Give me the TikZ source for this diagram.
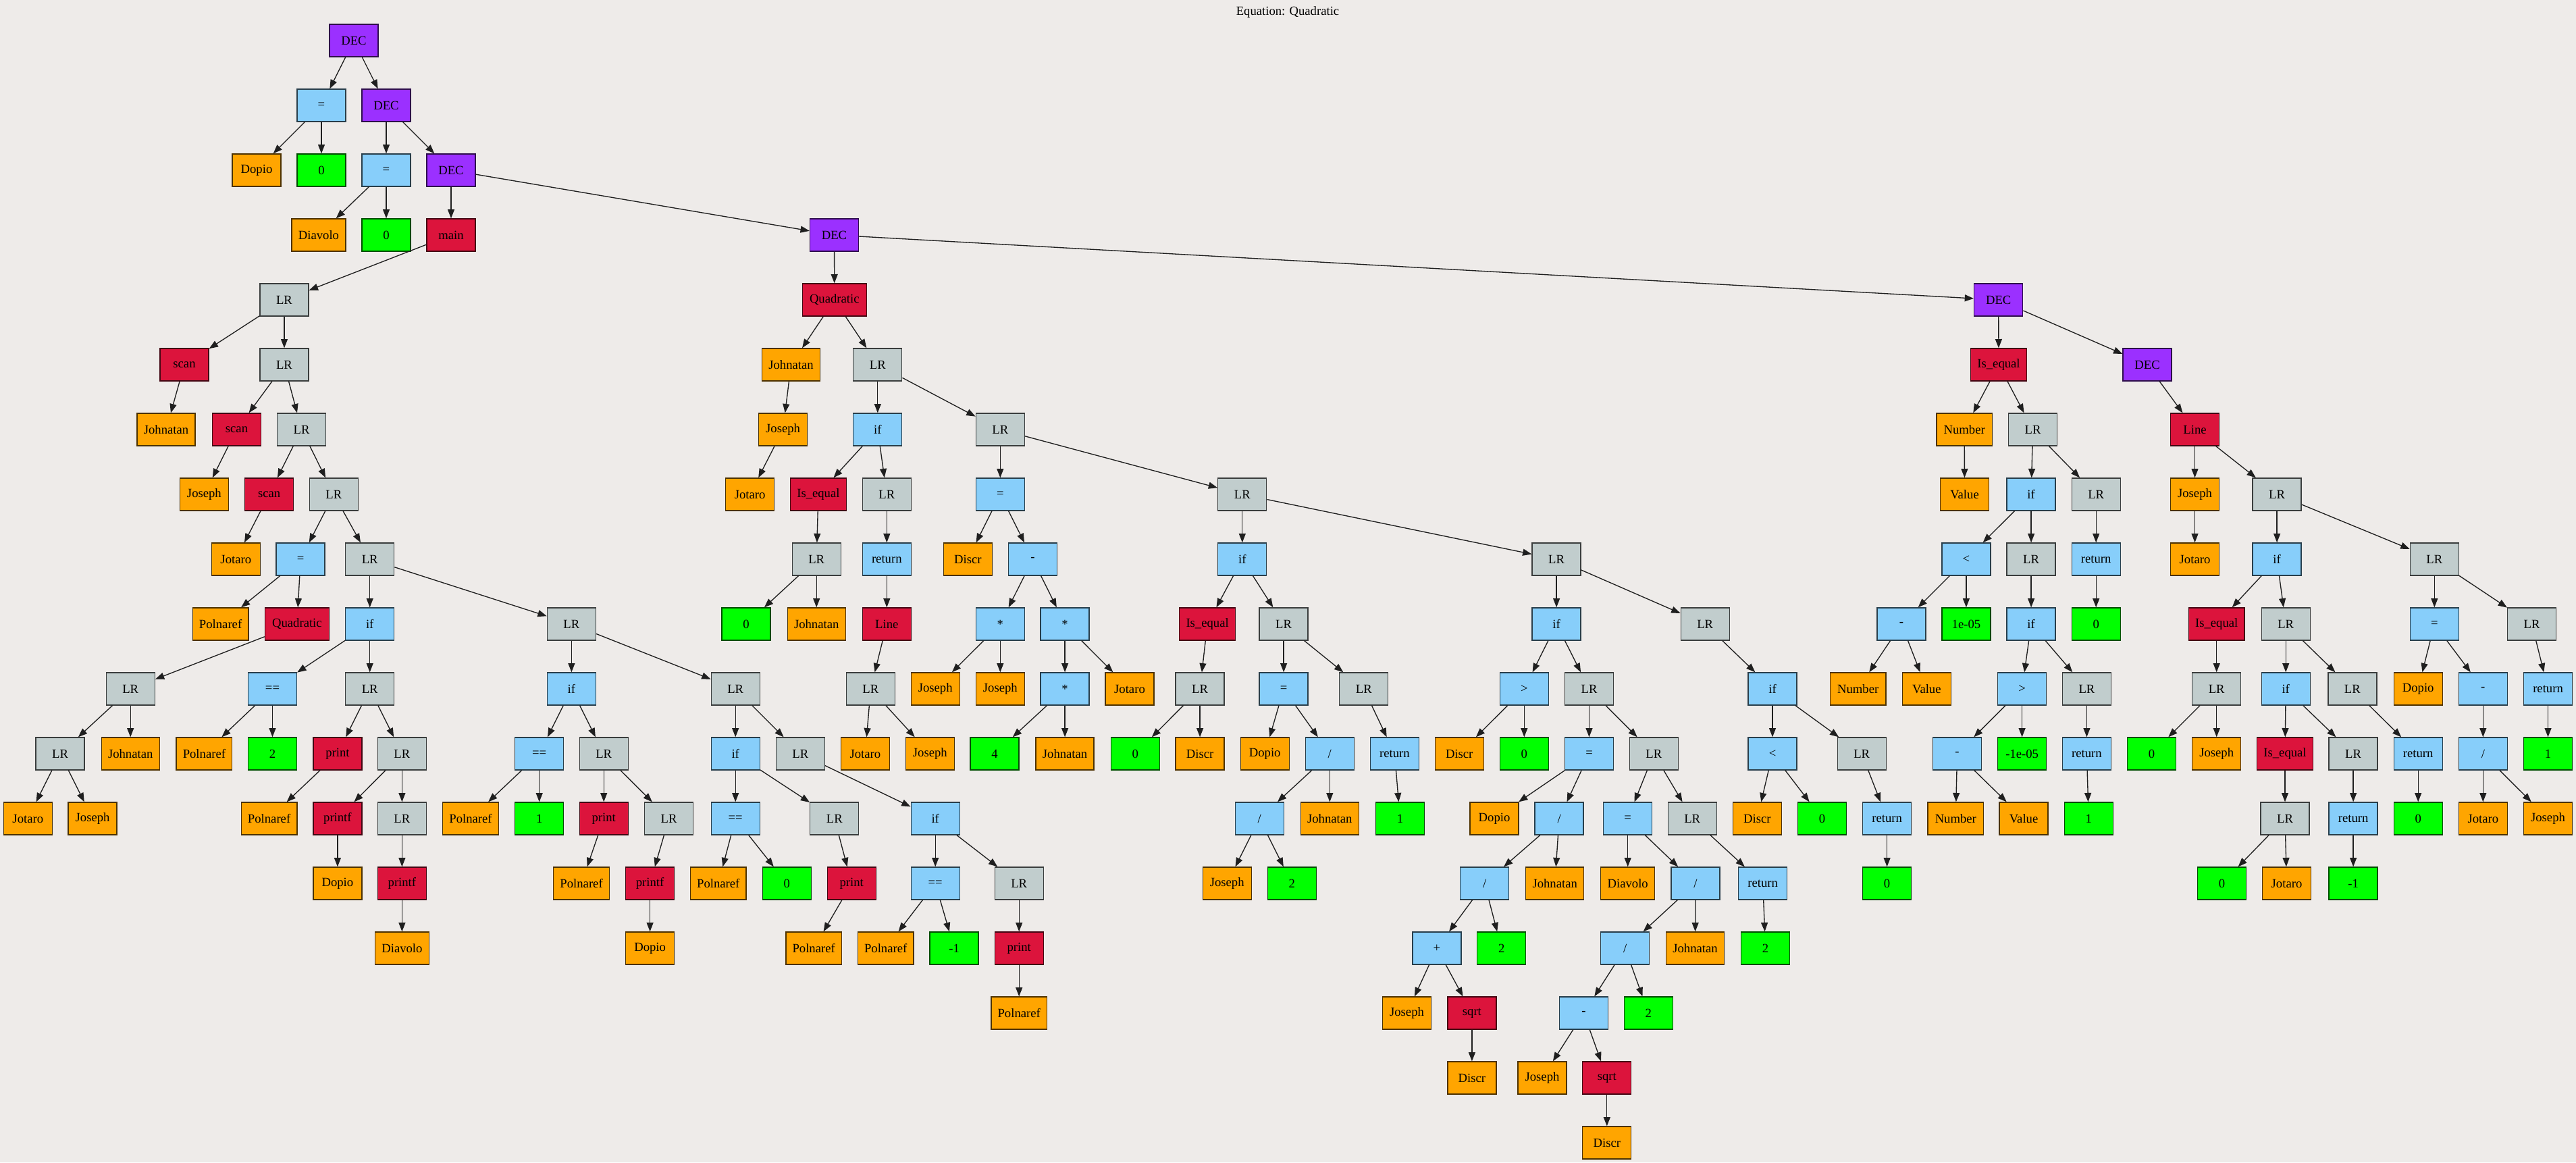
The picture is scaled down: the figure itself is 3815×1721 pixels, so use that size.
\documentclass[tikz,border=0pt]{standalone}
\usepackage{fontspec}
\setmainfont{Liberation Serif}
\usetikzlibrary{arrows.meta}
\definecolor{bgc}{RGB}{238,235,233}
\definecolor{cpur}{RGB}{155,48,255}
\definecolor{cblu}{RGB}{135,206,250}
\definecolor{cora}{RGB}{255,165,0}
\definecolor{cgrn}{RGB}{0,255,0}
\definecolor{cred}{RGB}{220,20,60}
\definecolor{cgry}{RGB}{193,205,205}
\tikzset{
  nbase/.style={rectangle, line width=1pt, minimum width=54pt, minimum height=36pt, inner sep=0pt, font=\fontsize{14pt}{16pt}\selectfont, text=black},
  ndec/.style={nbase, fill=cpur, draw=cpur!30!black},
  nop/.style={nbase, fill=cblu, draw=cblu!30!black},
  nvar/.style={nbase, fill=cora, draw=cora!30!black},
  nnum/.style={nbase, fill=cgrn, draw=cgrn!30!black},
  nfn/.style={nbase, fill=cred, draw=cred!30!black},
  nlr/.style={nbase, fill=cgry, draw=cgry!30!black},
  w80/.style={minimum width=60pt},
  w83/.style={minimum width=62pt},
  w86/.style={minimum width=64.5pt},
  w95/.style={minimum width=71.25pt},
  edge/.style={line width=1pt, draw=black!88, -{Triangle[length=10pt,width=7.5pt]}}
}
\begin{document}
\begin{tikzpicture}[x=0.75pt,y=-0.75pt]
\fill[bgc] (0,0) rectangle (3815,1721);
\useasboundingbox (0,0) rectangle (3815,1721);
\node[font=\fontsize{14pt}{16pt}\selectfont] (title) at (1907,18) {Equation: Quadratic};
% top chain
\node[ndec] (a0) at (524,60) {DEC};
\node[nop] (a1) at (476,156) {=};
\node[ndec] (a2) at (572,156) {DEC};
\node[nvar] (a3) at (380,252) {Dopio};
\node[nnum] (a4) at (476,252) {0};
\node[nop] (a5) at (572,252) {=};
\node[ndec] (a6) at (668,252) {DEC};
\node[nvar,w80] (a7) at (472,348) {Diavolo};
\node[nnum] (a8) at (572,348) {0};
\node[nfn] (a9) at (668,348) {main};
\node[ndec] (a10) at (1235.5,348) {DEC};
% main branch
\node[nlr] (b1) at (421,444) {LR};
\node[nfn] (b2) at (273,540) {scan};
\node[nlr] (b3) at (421,540) {LR};
\node[nvar,w86] (b4) at (246,636) {Johnatan};
\node[nfn] (b5) at (350.5,636) {scan};
\node[nlr] (b6) at (446.6,636) {LR};
\node[nvar] (b7) at (302.4,732) {Joseph};
\node[nfn] (b8) at (398.6,732) {scan};
\node[nlr] (b9) at (494.4,732) {LR};
\node[nvar] (b10) at (349.3,828) {Jotaro};
\node[nop] (b11) at (445.1,828) {=};
\node[nlr] (b12) at (547.7,828) {LR};
\node[nvar,w83] (b13) at (326.6,924) {Polnaref};
\node[nfn,w95] (b14) at (439.9,924) {Quadratic};
\node[nop] (b15) at (547.7,924) {if};
\node[nlr] (b16) at (846.4,924) {LR};
\node[nlr] (b17) at (193.2,1020) {LR};
\node[nlr] (b18) at (89.1,1116) {LR};
\node[nvar,w86] (b19) at (193.2,1116) {Johnatan};
\node[nvar] (b20) at (41.3,1212) {Jotaro};
\node[nvar] (b21) at (137.1,1212) {Joseph};
\node[nop] (b22) at (403.5,1020) {==};
\node[nlr] (b23) at (547.7,1020) {LR};
\node[nvar,w83] (b24) at (302.4,1116) {Polnaref};
\node[nnum] (b25) at (403.5,1116) {2};
\node[nfn] (b26) at (499.9,1116) {print};
\node[nlr] (b27) at (595.4,1116) {LR};
\node[nvar,w83] (b28) at (398.6,1212) {Polnaref};
\node[nfn] (b29) at (499.9,1212) {printf};
\node[nlr] (b30) at (595.4,1212) {LR};
\node[nvar] (b31) at (499.9,1308) {Dopio};
\node[nfn] (b32) at (595.4,1308) {printf};
\node[nvar,w80] (b33) at (595.4,1404) {Diavolo};
\node[nop] (b34) at (846.4,1020) {if};
\node[nlr] (b35) at (1089.2,1020) {LR};
\node[nop] (b36) at (798.7,1116) {==};
\node[nlr] (b37) at (894.2,1116) {LR};
\node[nvar,w83] (b38) at (697,1212) {Polnaref};
\node[nnum] (b39) at (798.7,1212) {1};
\node[nfn] (b40) at (894.2,1212) {print};
\node[nlr] (b41) at (990.6,1212) {LR};
\node[nvar,w83] (b42) at (861.1,1308) {Polnaref};
\node[nfn] (b43) at (962.6,1308) {printf};
\node[nvar] (b44) at (962.6,1404) {Dopio};
\node[nop] (b45) at (1089.2,1116) {if};
\node[nlr] (b46) at (1185.3,1116) {LR};
\node[nop] (b47) at (1089.2,1212) {==};
\node[nlr] (b48) at (1235.8,1212) {LR};
\node[nvar,w83] (b49) at (1063.8,1308) {Polnaref};
\node[nnum] (b50) at (1165.4,1308) {0};
\node[nfn] (b51) at (1261.2,1308) {print};
\node[nvar,w83] (b52) at (1205.2,1404) {Polnaref};
\node[nop] (b53) at (1385.2,1212) {if};
\node[nop] (b54) at (1385.2,1308) {==};
\node[nlr] (b55) at (1509.2,1308) {LR};
\node[nvar,w83] (b56) at (1311.7,1404) {Polnaref};
\node[nnum] (b57) at (1413.1,1404) {-1};
\node[nfn] (b58) at (1509.2,1404) {print};
\node[nvar,w83] (b59) at (1509.2,1500) {Polnaref};
% Quadratic branch
\node[nfn,w95] (c1) at (1235.8,444) {Quadratic};
\node[nvar,w86] (c2) at (1171.5,540) {Johnatan};
\node[nlr] (c3) at (1299.8,540) {LR};
\node[nvar] (c4) at (1159.6,636) {Joseph};
\node[nvar] (c5) at (1110.6,732) {Jotaro};
\node[nop] (c6) at (1299.8,636) {if};
\node[nlr] (c7) at (1481.3,636) {LR};
\node[nfn,w83] (c8) at (1211.9,732) {Is\_equal};
\node[nlr] (c9) at (1313.3,732) {LR};
\node[nlr] (c10) at (1209.2,828) {LR};
\node[nnum] (c11) at (1105.1,924) {0};
\node[nvar,w86] (c12) at (1209.2,924) {Johnatan};
\node[nop] (c13) at (1313.3,828) {return};
\node[nfn] (c14) at (1313.3,924) {Line};
\node[nlr] (c15) at (1289.4,1020) {LR};
\node[nvar] (c16) at (1281.4,1116) {Jotaro};
\node[nvar] (c17) at (1377.3,1116) {Joseph};
\node[nop] (c18) at (1481.3,732) {=};
\node[nlr] (c19) at (1839.8,732) {LR};
\node[nvar] (c20) at (1433.3,828) {Discr};
\node[nop] (c21) at (1529.4,828) {-};
\node[nop] (c22) at (1481.3,924) {*};
\node[nop] (c23) at (1577.1,924) {*};
\node[nvar] (c24) at (1385.2,1020) {Joseph};
\node[nvar] (c25) at (1481.3,1020) {Joseph};
\node[nop] (c26) at (1577.1,1020) {*};
\node[nvar] (c27) at (1673,1020) {Jotaro};
\node[nnum] (c28) at (1473.1,1116) {4};
\node[nvar,w86] (c29) at (1577.1,1116) {Johnatan};
\node[nop] (c30) at (1839.8,828) {if};
\node[nlr] (c31) at (2305.1,828) {LR};
\node[nfn,w83] (c32) at (1788.1,924) {Is\_equal};
\node[nlr] (c33) at (1901.1,924) {LR};
\node[nlr] (c34) at (1777.1,1020) {LR};
\node[nnum] (c35) at (1681.2,1116) {0};
\node[nvar] (c36) at (1777.1,1116) {Discr};
\node[nop] (c37) at (1901.1,1020) {=};
\node[nlr] (c38) at (2019.8,1020) {LR};
\node[nvar] (c39) at (1873.2,1116) {Dopio};
\node[nop] (c40) at (1969.3,1116) {/};
\node[nop] (c41) at (1865.2,1212) {/};
\node[nvar,w86] (c42) at (1969.3,1212) {Johnatan};
\node[nvar] (c43) at (1817.2,1308) {Joseph};
\node[nnum] (c44) at (1913.2,1308) {2};
\node[nop] (c45) at (2065.4,1116) {return};
\node[nnum] (c46) at (2073.4,1212) {1};
\node[nop] (c47) at (2305.1,924) {if};
\node[nlr] (c48) at (2525.2,924) {LR};
\node[nop] (c49) at (2257.3,1020) {>};
\node[nlr] (c50) at (2353.5,1020) {LR};
\node[nvar] (c51) at (2161.2,1116) {Discr};
\node[nnum] (c52) at (2257.3,1116) {0};
\node[nop] (c53) at (2353.5,1116) {=};
\node[nlr] (c54) at (2449.3,1116) {LR};
\node[nvar] (c55) at (2213,1212) {Dopio};
\node[nop] (c56) at (2309.1,1212) {/};
\node[nop] (c57) at (2198.6,1308) {/};
\node[nvar,w86] (c58) at (2302.7,1308) {Johnatan};
\node[nop] (c59) at (2127.9,1404) {+};
\node[nnum] (c60) at (2223.7,1404) {2};
\node[nvar] (c61) at (2083.5,1500) {Joseph};
\node[nfn] (c62) at (2179.9,1500) {sqrt};
\node[nvar] (c63) at (2179.9,1596) {Discr};
\node[nop] (c64) at (2410.7,1212) {=};
\node[nlr] (c65) at (2506.2,1212) {LR};
\node[nvar,w80] (c66) at (2410.7,1308) {Diavolo};
\node[nop] (c67) at (2510.9,1308) {/};
\node[nop] (c68) at (2406.8,1404) {/};
\node[nvar,w86] (c69) at (2510.5,1404) {Johnatan};
\node[nop] (c70) at (2345.5,1500) {-};
\node[nnum] (c71) at (2441.3,1500) {2};
\node[nvar] (c72) at (2284,1596) {Joseph};
\node[nfn] (c73) at (2379.8,1596) {sqrt};
\node[nvar] (c74) at (2379.8,1692) {Discr};
\node[nop] (c75) at (2610.7,1308) {return};
\node[nnum] (c76) at (2614.6,1404) {2};
\node[nop] (c77) at (2625,1020) {if};
\node[nop] (c78) at (2625,1116) {<};
\node[nlr] (c79) at (2757.2,1116) {LR};
\node[nvar] (c80) at (2602.4,1212) {Discr};
\node[nnum] (c81) at (2698.5,1212) {0};
\node[nop] (c82) at (2794.6,1212) {return};
\node[nnum] (c83) at (2794.6,1308) {0};
% right branch
\node[ndec] (d1) at (2959.7,444) {DEC};
\node[nfn,w83] (d2) at (2960,540) {Is\_equal};
\node[ndec] (d3) at (3180.1,540) {DEC};
\node[nvar,w83] (d4) at (2909.2,636) {Number};
\node[nlr] (d5) at (3010.5,636) {LR};
\node[nvar] (d6) at (2909.5,732) {Value};
\node[nop] (d7) at (3008.1,732) {if};
\node[nlr] (d8) at (3104.2,732) {LR};
\node[nop] (d9) at (2911.9,828) {<};
\node[nlr] (d10) at (3008.1,828) {LR};
\node[nop] (d11) at (2816,924) {-};
\node[nnum] (d12) at (2911.9,924) {1e-05};
\node[nvar,w83] (d13) at (2751.7,1020) {Number};
\node[nvar] (d14) at (2853.3,1020) {Value};
\node[nop] (d15) at (3008.1,924) {if};
\node[nop] (d16) at (2994.6,1020) {>};
\node[nlr] (d17) at (3090.4,1020) {LR};
\node[nop] (d18) at (2898.5,1116) {-};
\node[nnum] (d19) at (2994.6,1116) {-1e-05};
\node[nvar,w83] (d20) at (2896.3,1212) {Number};
\node[nvar] (d21) at (2997,1212) {Value};
\node[nop] (d22) at (3090.4,1116) {return};
\node[nnum] (d23) at (3093.2,1212) {1};
\node[nop] (d24) at (3104.2,828) {return};
\node[nnum] (d25) at (3104.2,924) {0};
\node[nfn] (d26) at (3250.5,636) {Line};
\node[nvar] (d27) at (3250.5,732) {Joseph};
\node[nlr] (d28) at (3372.1,732) {LR};
\node[nvar] (d29) at (3250.5,828) {Jotaro};
\node[nop] (d30) at (3372.1,828) {if};
\node[nlr] (d31) at (3605.3,828) {LR};
\node[nfn,w83] (d32) at (3282.7,924) {Is\_equal};
\node[nlr] (d33) at (3385.2,924) {LR};
\node[nlr] (d34) at (3282.7,1020) {LR};
\node[nnum] (d35) at (3186.6,1116) {0};
\node[nvar] (d36) at (3282.7,1116) {Joseph};
\node[nop] (d37) at (3385.2,1020) {if};
\node[nlr] (d38) at (3483.8,1020) {LR};
\node[nfn,w83] (d39) at (3384,1116) {Is\_equal};
\node[nlr] (d40) at (3485.1,1116) {LR};
\node[nlr] (d41) at (3384,1212) {LR};
\node[nnum] (d42) at (3290.6,1308) {0};
\node[nvar] (d43) at (3386.5,1308) {Jotaro};
\node[nop] (d44) at (3485.1,1212) {return};
\node[nnum] (d45) at (3485.1,1308) {-1};
\node[nop] (d46) at (3581.2,1116) {return};
\node[nnum] (d47) at (3581.2,1212) {0};
\node[nop] (d48) at (3605.3,924) {=};
\node[nlr] (d49) at (3749.6,924) {LR};
\node[nvar] (d50) at (3581.2,1020) {Dopio};
\node[nop] (d51) at (3677.3,1020) {-};
\node[nop] (d52) at (3677.3,1116) {/};
\node[nvar] (d53) at (3677.3,1212) {Jotaro};
\node[nvar] (d54) at (3773.5,1212) {Joseph};
\node[nop] (d55) at (3773.5,1020) {return};
\node[nnum] (d56) at (3773.5,1116) {1};
% edges
\foreach \p/\c in {a0/a1,a0/a2,a1/a3,a1/a4,a2/a5,a2/a6,a5/a7,a5/a8,a6/a9,a6/a10,
 a9/b1,b1/b2,b1/b3,b2/b4,b3/b5,b3/b6,b5/b7,b6/b8,b6/b9,b8/b10,b9/b11,b9/b12,
 b11/b13,b11/b14,b12/b15,b12/b16,b14/b17,b17/b18,b17/b19,b18/b20,b18/b21,
 b15/b22,b15/b23,b22/b24,b22/b25,b23/b26,b23/b27,b26/b28,b27/b29,b27/b30,
 b29/b31,b30/b32,b32/b33,b16/b34,b16/b35,b34/b36,b34/b37,b36/b38,b36/b39,
 b37/b40,b37/b41,b40/b42,b41/b43,b43/b44,b35/b45,b35/b46,b45/b47,b45/b48,
 b47/b49,b47/b50,b48/b51,b51/b52,b46/b53,b53/b54,b53/b55,b54/b56,b54/b57,
 b55/b58,b58/b59,
 a10/c1,c1/c2,c1/c3,c2/c4,c4/c5,c3/c6,c3/c7,c6/c8,c6/c9,c8/c10,c10/c11,c10/c12,
 c9/c13,c13/c14,c14/c15,c15/c16,c15/c17,c7/c18,c7/c19,c18/c20,c18/c21,c21/c22,
 c21/c23,c22/c24,c22/c25,c23/c26,c23/c27,c26/c28,c26/c29,c19/c30,c19/c31,
 c30/c32,c30/c33,c32/c34,c34/c35,c34/c36,c33/c37,c33/c38,c37/c39,c37/c40,
 c40/c41,c40/c42,c41/c43,c41/c44,c38/c45,c45/c46,c31/c47,c31/c48,c47/c49,
 c47/c50,c49/c51,c49/c52,c50/c53,c50/c54,c53/c55,c53/c56,c56/c57,c56/c58,
 c57/c59,c57/c60,c59/c61,c59/c62,c62/c63,c54/c64,c54/c65,c64/c66,c64/c67,
 c67/c68,c67/c69,c68/c70,c68/c71,c70/c72,c70/c73,c73/c74,c65/c75,c75/c76,
 c48/c77,c77/c78,c77/c79,c78/c80,c78/c81,c79/c82,c82/c83,
 a10/d1,d1/d2,d1/d3,d2/d4,d2/d5,d4/d6,d5/d7,d5/d8,d7/d9,d7/d10,d9/d11,d9/d12,
 d11/d13,d11/d14,d10/d15,d15/d16,d15/d17,d16/d18,d16/d19,d18/d20,d18/d21,
 d17/d22,d22/d23,d8/d24,d24/d25,d3/d26,d26/d27,d26/d28,d27/d29,d28/d30,d28/d31,
 d30/d32,d30/d33,d32/d34,d34/d35,d34/d36,d33/d37,d33/d38,d37/d39,d37/d40,
 d39/d41,d41/d42,d41/d43,d40/d44,d44/d45,d38/d46,d46/d47,d31/d48,d31/d49,
 d48/d50,d48/d51,d51/d52,d52/d53,d52/d54,d49/d55,d55/d56}
 \draw[edge] (\p) -- (\c);
\end{tikzpicture}
\end{document}
